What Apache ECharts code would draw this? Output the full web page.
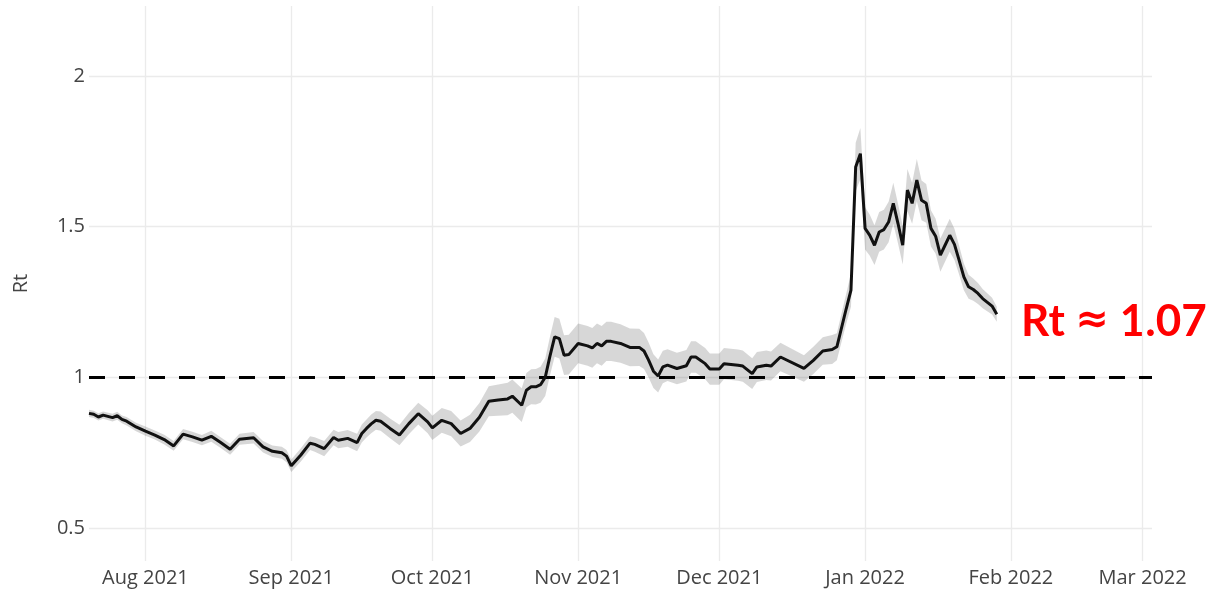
<!DOCTYPE html>
<html>
<head>
<meta charset="utf-8">
<script src="https://cdn.jsdelivr.net/npm/echarts@6/dist/echarts.min.js"></script>
<style>
  html, body { margin: 0; padding: 0; background: #ffffff; }
  #chart { width: 1212px; height: 591px; }
</style>
</head>
<body>
<div id="chart"></div>
<script>
// Daily estimates of the effective reproduction number with its credible interval
const dates = [
  '2021-07-20','2021-07-21','2021-07-22','2021-07-23','2021-07-25','2021-07-26','2021-07-27','2021-07-28','2021-07-30',
  '2021-08-01','2021-08-03','2021-08-05','2021-08-07','2021-08-09','2021-08-11','2021-08-13','2021-08-15','2021-08-17',
  '2021-08-19','2021-08-21','2021-08-24','2021-08-26','2021-08-28','2021-08-30','2021-08-31',
  '2021-09-01','2021-09-03','2021-09-05','2021-09-06','2021-09-08','2021-09-10','2021-09-11','2021-09-13','2021-09-15',
  '2021-09-16','2021-09-17','2021-09-18','2021-09-19','2021-09-20','2021-09-22','2021-09-24','2021-09-26','2021-09-28','2021-09-30',
  '2021-10-01','2021-10-03','2021-10-05','2021-10-07','2021-10-09','2021-10-11','2021-10-13','2021-10-15','2021-10-17',
  '2021-10-18','2021-10-20','2021-10-21','2021-10-22','2021-10-23','2021-10-24','2021-10-25','2021-10-26','2021-10-27',
  '2021-10-28','2021-10-29','2021-10-30',
  '2021-11-01','2021-11-03','2021-11-04','2021-11-05','2021-11-06','2021-11-07','2021-11-08','2021-11-10','2021-11-12',
  '2021-11-14','2021-11-15','2021-11-16','2021-11-17','2021-11-18','2021-11-19','2021-11-20','2021-11-22','2021-11-24',
  '2021-11-25','2021-11-26','2021-11-28','2021-11-29',
  '2021-12-01','2021-12-02','2021-12-05','2021-12-06','2021-12-08','2021-12-09','2021-12-11','2021-12-12','2021-12-14',
  '2021-12-19','2021-12-21','2021-12-23','2021-12-25','2021-12-26','2021-12-28','2021-12-29','2021-12-30','2021-12-31',
  '2022-01-01','2022-01-02','2022-01-03','2022-01-04','2022-01-05','2022-01-06','2022-01-07','2022-01-08','2022-01-09',
  '2022-01-10','2022-01-11','2022-01-12','2022-01-13','2022-01-14','2022-01-15','2022-01-16','2022-01-17','2022-01-18',
  '2022-01-19','2022-01-20','2022-01-21','2022-01-22','2022-01-23','2022-01-24','2022-01-25','2022-01-26','2022-01-28',
  '2022-01-29'
];

const rt = [
  0.880,0.877,0.868,0.874,0.866,0.872,0.860,0.854,0.835,
  0.821,0.808,0.793,0.772,0.811,0.802,0.791,0.804,0.783,
  0.761,0.794,0.799,0.769,0.754,0.749,0.738,
  0.706,0.741,0.781,0.777,0.763,0.800,0.791,0.797,0.783,
  0.813,0.830,0.845,0.857,0.854,0.830,0.808,0.846,0.879,0.852,
  0.832,0.857,0.846,0.813,0.830,0.867,0.920,0.924,0.928,
  0.937,0.907,0.957,0.968,0.968,0.975,1.000,1.070,1.134,
  1.128,1.073,1.075,
  1.112,1.104,1.097,1.112,1.104,1.119,1.119,1.112,1.099,
  1.099,1.087,1.056,1.020,1.004,1.034,1.040,1.029,1.038,
  1.067,1.067,1.045,1.027,
  1.027,1.045,1.040,1.037,1.012,1.034,1.040,1.037,1.067,
  1.029,1.056,1.087,1.092,1.101,1.228,1.289,1.698,1.742,
  1.494,1.471,1.438,1.482,1.490,1.515,1.577,1.510,1.438,
  1.621,1.577,1.654,1.587,1.577,1.494,1.468,1.405,1.438,
  1.471,1.441,1.388,1.333,1.300,1.291,1.278,1.261,1.236,
  1.209
];

const ciLow = [
  0.868,0.865,0.856,0.862,0.853,0.859,0.847,0.840,0.821,
  0.806,0.793,0.777,0.756,0.794,0.785,0.774,0.786,0.765,
  0.743,0.776,0.780,0.750,0.735,0.729,0.718,
  0.685,0.719,0.758,0.753,0.738,0.774,0.764,0.769,0.754,
  0.783,0.800,0.814,0.826,0.822,0.797,0.774,0.811,0.843,0.814,
  0.792,0.816,0.804,0.770,0.785,0.820,0.870,0.872,0.874,
  0.882,0.851,0.900,0.910,0.909,0.915,0.938,1.006,1.068,
  1.062,1.007,1.009,
  1.046,1.038,1.031,1.046,1.038,1.054,1.054,1.048,1.036,
  1.037,1.027,0.998,0.964,0.949,0.980,0.987,0.977,0.986,
  1.015,1.015,0.993,0.975,
  0.975,0.993,0.988,0.985,0.961,0.984,0.991,0.989,1.020,
  0.985,1.011,1.041,1.044,1.056,1.178,1.234,1.618,1.657,
  1.424,1.403,1.372,1.416,1.424,1.448,1.509,1.444,1.374,
  1.551,1.509,1.584,1.521,1.513,1.434,1.410,1.350,1.383,
  1.416,1.389,1.340,1.289,1.260,1.254,1.243,1.229,1.208,
  1.184
];

const ciHigh = [
  0.892,0.889,0.880,0.886,0.879,0.885,0.873,0.868,0.849,
  0.836,0.823,0.809,0.788,0.828,0.819,0.808,0.822,0.801,
  0.779,0.812,0.818,0.788,0.773,0.769,0.758,
  0.727,0.763,0.804,0.801,0.788,0.826,0.818,0.825,0.812,
  0.843,0.860,0.876,0.888,0.886,0.863,0.842,0.881,0.915,0.890,
  0.872,0.898,0.888,0.856,0.875,0.914,0.970,0.976,0.982,
  0.992,0.963,1.014,1.026,1.027,1.035,1.062,1.134,1.200,
  1.194,1.139,1.141,
  1.178,1.170,1.163,1.178,1.170,1.184,1.184,1.176,1.162,
  1.161,1.147,1.114,1.076,1.059,1.088,1.093,1.081,1.090,
  1.119,1.119,1.097,1.079,
  1.079,1.097,1.092,1.089,1.063,1.084,1.089,1.085,1.114,
  1.073,1.101,1.133,1.140,1.146,1.278,1.344,1.778,1.827,
  1.564,1.539,1.504,1.548,1.556,1.582,1.645,1.576,1.502,
  1.691,1.645,1.724,1.653,1.641,1.554,1.526,1.460,1.493,
  1.526,1.493,1.436,1.377,1.340,1.328,1.313,1.293,1.264,
  1.234
];

const MONTHS = ['Jan','Feb','Mar','Apr','May','Jun','Jul','Aug','Sep','Oct','Nov','Dec'];
const THRESHOLD = 1;
const ANNOTATION = ['Rt ', '\u2248', ' 1.07'];

const toUTC = s => {
  const [y, m, d] = s.split('-').map(Number);
  return Date.UTC(y, m - 1, d);
};
const times = dates.map(toUTC);

const bandBase = times.map((t, i) => [t, ciLow[i]]);
const bandSpan = times.map((t, i) => [t, +(ciHigh[i] - ciLow[i]).toFixed(3)]);
const rtLine = times.map((t, i) => [t, rt[i]]);

const labelFont = { color: '#444444', fontSize: 20, fontFamily: '"Open Sans", sans-serif' };
const gridColor = '#ebebeb';

const chart = echarts.init(document.getElementById('chart'), null, { renderer: 'canvas' });
chart.setOption({
  useUTC: true,
  animation: false,
  backgroundColor: '#ffffff',
  grid: { left: 89, right: 60, top: 6, bottom: 30, containLabel: false },
  xAxis: {
    type: 'time',
    min: toUTC('2021-07-20'),
    max: toUTC('2022-03-03'),
    splitNumber: 8,
    minInterval: 28 * 86400000,
    axisLine: { show: false },
    axisTick: { show: false },
    axisLabel: Object.assign({
      margin: 7,
      showMinLabel: false,
      showMaxLabel: false,
      hideOverlap: false,
      formatter: v => {
        const d = new Date(v);
        return MONTHS[d.getUTCMonth()] + ' ' + d.getUTCFullYear();
      }
    }, labelFont),
    splitLine: { show: true, showMinLine: false, showMaxLine: false, lineStyle: { color: gridColor, width: 1.3 } }
  },
  yAxis: {
    type: 'value',
    min: 0.39,
    max: 2.232,
    splitNumber: 4,
    name: 'Rt',
    nameLocation: 'middle',
    nameGap: 58,
    nameRotate: 90,
    nameTextStyle: labelFont,
    axisLine: { show: false },
    axisTick: { show: false },
    axisLabel: Object.assign({
      margin: 4,
      showMinLabel: false,
      showMaxLabel: false,
      formatter: v => (Math.abs(v * 2 - Math.round(v * 2)) < 1e-6 ? String(v) : '')
    }, labelFont),
    splitLine: { show: true, showMinLine: false, showMaxLine: false, lineStyle: { color: gridColor, width: 1.3 } }
  },
  series: [
    {
      name: 'ci-base',
      type: 'line',
      stack: 'ci',
      data: bandBase,
      symbol: 'none',
      silent: true,
      lineStyle: { opacity: 0 },
      z: 1
    },
    {
      name: 'ci-band',
      type: 'line',
      stack: 'ci',
      data: bandSpan,
      symbol: 'none',
      silent: true,
      lineStyle: { opacity: 0 },
      areaStyle: { color: 'rgba(0,0,0,0.155)', opacity: 1 },
      z: 1
    },
    {
      name: 'Rt',
      type: 'line',
      data: rtLine,
      symbol: 'none',
      lineStyle: { color: '#111111', width: 3 },
      z: 3,
      markLine: {
        silent: true,
        symbol: 'none',
        label: { show: false },
        lineStyle: { color: '#000000', width: 3, type: [16, 14] },
        data: [{ yAxis: THRESHOLD }],
        z: 2
      }
    }
  ],
  graphic: [
    {
      type: 'text',
      left: 1021,
      top: 300,
      style: {
        text: '{t|' + ANNOTATION[0] + '}{s|' + ANNOTATION[1] + '}{t|' + ANNOTATION[2] + '}',
        rich: {
          t: { fill: '#ff0000', fontWeight: 'bold', fontSize: 44, fontFamily: 'Lato, "Open Sans", sans-serif', lineHeight: 50 },
          s: { fill: '#ff0000', fontWeight: 'bold', fontSize: 40, fontFamily: '"DejaVu Sans", sans-serif', lineHeight: 50 }
        }
      }
    }
  ]
});
</script>
</body>
</html>
